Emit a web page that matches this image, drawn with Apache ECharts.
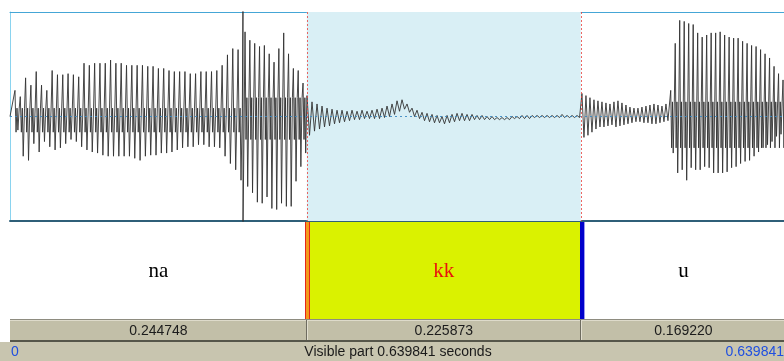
<!DOCTYPE html>
<html>
<head>
<meta charset="utf-8">
<script src="https://cdn.jsdelivr.net/npm/echarts@6/dist/echarts.min.js"></script>
<style>
html, body { margin: 0; padding: 0; background: #fff; }
#c { width: 784px; height: 361px; }
</style>
</head>
<body>
<div id="c"></div>
<script>
// Interval tier: labels and durations (s)
const tierLabels = ['na', 'kk', 'u'];
const tierDurations = [0.244748, 0.225873, 0.169220];
const selectedTier = 1;

// Sound: pulse trains, amplitudes relative to full scale
const naOnsetA = 0.0041, naPeriodA = 0.00438;
const naTopsA = [0.25,0.19,0.37,0.30,0.43,0.30,0.25,0.44,0.40,0.40,0.41,0.40,0.38,0.51,0.49,0.51,0.51,0.51,0.54,0.51,0.51,0.49,0.49,0.49,0.49,0.48,0.48,0.46,0.46,0.44,0.43,0.43,0.43,0.41,0.41,0.43,0.43,0.43,0.44,0.49,0.59,0.65,0.64];
const naBotsA = [-0.13,-0.38,-0.42,-0.26,-0.34,-0.24,-0.29,-0.32,-0.30,-0.26,-0.22,-0.24,-0.29,-0.32,-0.34,-0.35,-0.37,-0.38,-0.38,-0.38,-0.38,-0.38,-0.40,-0.42,-0.38,-0.37,-0.37,-0.35,-0.35,-0.34,-0.32,-0.30,-0.29,-0.29,-0.27,-0.27,-0.29,-0.29,-0.30,-0.38,-0.45,-0.51,-0.61];
const naInnerA = [0.08, -0.15];

const clickTime = 0.1921;

const naOnsetB = 0.1938, naPeriodB = 0.003985;
const naTopsB = [0.81,0.73,0.70,0.67,0.68,0.60,0.52,0.65,0.80,0.60,0.46,0.44,0.32];
const naBotsB = [-0.67,-0.73,-0.82,-0.83,-0.77,-0.88,-0.89,-0.83,-0.86,-0.86,-0.62,-0.48,-0.35];
const naInnerB = [0.18, -0.22];

const kkOnset = 0.2449, kkPeriod = 0.004123;
const kkTops = [0.20,0.14,0.12,0.10,0.08,0.07,0.06,0.06,0.05,0.06,0.05,0.06,0.05,0.06,0.07,0.08,0.10,0.12,0.15,0.16,0.12,0.08,0.06,0.04,0.03,0.02,0.01,0.00,0.01,0.02,0.03,0.03,0.02,0.02,0.01,0.01,0.00,0.00,-0.01,-0.01,-0.01,0.00,0.00,0.01,0.01,0.01,0.01,0.01,0.01,0.01,0.01,0.02,0.01,0.01,0.01];
const kkBots = [-0.18,-0.14,-0.12,-0.10,-0.09,-0.07,-0.06,-0.05,-0.04,-0.03,-0.03,-0.02,-0.02,-0.02,-0.02,-0.01,0.00,0.02,0.05,0.07,0.04,0.00,-0.02,-0.04,-0.05,-0.06,-0.06,-0.07,-0.06,-0.05,-0.04,-0.04,-0.04,-0.03,-0.03,-0.03,-0.03,-0.03,-0.03,-0.03,-0.03,-0.02,-0.02,-0.02,-0.02,-0.01,-0.01,-0.01,-0.01,-0.01,-0.01,-0.01,-0.01,-0.01,-0.01];

const uNoiseOnset = 0.4716, uNoisePeriod = 0.003298;
const uNoiseTops = [0.22,0.20,0.18,0.16,0.15,0.14,0.13,0.12,0.14,0.15,0.13,0.11,0.09,0.08,0.08,0.09,0.10,0.11,0.12,0.11,0.10,0.12];
const uNoiseBots = [-0.20,-0.18,-0.15,-0.12,-0.10,-0.10,-0.09,-0.08,-0.10,-0.09,-0.08,-0.07,-0.06,-0.05,-0.05,-0.06,-0.06,-0.07,-0.07,-0.06,-0.05,-0.04];

const uOnset = 0.5448, uPeriod = 0.003704;
const uTops = [0.25,0.70,0.92,0.91,0.89,0.88,0.80,0.76,0.78,0.80,0.80,0.81,0.78,0.76,0.75,0.75,0.72,0.70,0.68,0.67,0.64,0.60,0.56,0.48,0.41,0.35];
const uBots = [-0.35,-0.54,-0.51,-0.61,-0.49,-0.51,-0.51,-0.48,-0.49,-0.54,-0.54,-0.54,-0.53,-0.49,-0.48,-0.45,-0.43,-0.42,-0.38,-0.34,-0.30,-0.27,-0.24,-0.19,-0.17,-0.15];
const uInner = [0.14, -0.30];

// Interval boundaries from the durations
const bounds = [0];
tierDurations.forEach(d => bounds.push(bounds[bounds.length - 1] + d));
const totalDur = bounds[bounds.length - 1];
const selStart = bounds[selectedTier], selEnd = bounds[selectedTier + 1];

// One glottal cycle: main peak, inner wiggle, trough, inner wiggle
function pulseTrain(onset, period, tops, bots, inner) {
  const pts = [];
  for (let i = 0; i < tops.length; i++) {
    const t = onset + i * period;
    if (inner) {
      pts.push([t, tops[i]], [t + 0.2 * period, inner[1]], [t + 0.38 * period, inner[0]],
               [t + 0.55 * period, bots[i]], [t + 0.8 * period, inner[0]]);
    } else {
      pts.push([t, tops[i]], [t + 0.5 * period, bots[i]]);
    }
  }
  return pts;
}

const wave = [[0, 0]]
  .concat(pulseTrain(naOnsetA, naPeriodA, naTopsA, naBotsA, naInnerA))
  .concat([[clickTime, 1.1], [clickTime, -1.1]])
  .concat(pulseTrain(naOnsetB, naPeriodB, naTopsB, naBotsB, naInnerB))
  .concat(pulseTrain(kkOnset, kkPeriod, kkTops, kkBots, null))
  .concat(pulseTrain(uNoiseOnset, uNoisePeriod, uNoiseTops, uNoiseBots, null))
  .concat(pulseTrain(uOnset, uPeriod, uTops, uBots, uInner));

const tierRows = tierLabels.map((l, i) => [bounds[i], bounds[i + 1], 0.5, i]);
const boundaryRows = bounds.slice(1, -1).map((b, i) => [b, 0.5, i]);
const durationRows = tierDurations.map((d, i) => [bounds[i], bounds[i + 1], 0.5, d]);

const chart = echarts.init(document.getElementById('c'), null, { renderer: 'canvas', width: 784, height: 361 });

const hiddenX = (grid) => ({
  type: 'value', gridIndex: grid, min: 0, max: totalDur,
  axisLine: { show: false }, axisTick: { show: false }, axisLabel: { show: false }, splitLine: { show: false }
});
const hiddenY = (grid, mn, mx) => ({
  type: 'value', gridIndex: grid, min: mn, max: mx,
  axisLine: { show: false }, axisTick: { show: false }, axisLabel: { show: false }, splitLine: { show: false }
});

const SANS = '"Liberation Sans", Arial, sans-serif';

chart.setOption({
  animation: false,
  grid: [
    { left: 10, right: -2, top: 12, height: 209, outerBoundsMode: 'none', containLabel: false },
    { left: 10, right: -2, top: 222, height: 97, outerBoundsMode: 'none', containLabel: false },
    { left: 10, right: -2, top: 320, height: 21, outerBoundsMode: 'none', containLabel: false }
  ],
  xAxis: [
    Object.assign(hiddenX(0), { position: 'bottom', axisLine: { show: true, onZero: false, lineStyle: { color: '#2f5f78', width: 2 } } }),
    Object.assign(hiddenX(0), { position: 'top', axisLine: { show: true, onZero: false, lineStyle: { color: '#45a6d6', width: 1 } } }),
    hiddenX(1),
    hiddenX(2)
  ],
  yAxis: [
    Object.assign(hiddenY(0, -1, 1), { axisLine: { show: true, onZero: false, lineStyle: { color: '#8ad3ef', width: 1 } } }),
    hiddenY(1, 0, 1),
    hiddenY(2, 0, 1)
  ],
  graphic: [
    { type: 'rect', shape: { x: 0, y: 342, width: 784, height: 19 }, style: { fill: '#c8c5af' }, z: 0 },
    { type: 'rect', shape: { x: 10, y: 319, width: 776, height: 1 }, style: { fill: '#8e8c80' }, z: 10 },
    { type: 'rect', shape: { x: 10, y: 340, width: 776, height: 2 }, style: { fill: '#56564a' }, z: 10 },
    { type: 'text', style: { text: '0', x: 11, y: 352, fill: '#1f4fe0', font: '14px ' + SANS, align: 'left', verticalAlign: 'middle' }, z: 10 },
    { type: 'text', style: { text: 'Visible part ' + totalDur.toFixed(6) + ' seconds', x: 398, y: 352, fill: '#1a1a1a', font: '14px ' + SANS, align: 'center', verticalAlign: 'middle' }, z: 10 },
    { type: 'text', style: { text: totalDur.toFixed(6), x: 784, y: 352, fill: '#1f4fe0', font: '14px ' + SANS, align: 'right', verticalAlign: 'middle' }, z: 10 }
  ],
  series: [
    {
      // selected interval shading in the sound panel
      type: 'custom', xAxisIndex: 0, yAxisIndex: 0, z: 1,
      data: [[selStart, selEnd, 0]],
      encode: { x: [0, 1], y: 2 },
      renderItem: (params, api) => {
        const a = api.coord([api.value(0), 1]);
        const b = api.coord([api.value(1), -1]);
        return { type: 'rect', shape: { x: a[0], y: a[1], width: b[0] - a[0], height: b[1] - a[1] }, style: { fill: '#d9eff5' } };
      }
    },
    {
      type: 'line', xAxisIndex: 0, yAxisIndex: 0, z: 3,
      data: wave, showSymbol: false, symbol: 'none',
      lineStyle: { color: '#333333', width: 1, opacity: 0.9 },
      clip: true, silent: true,
      markLine: {
        silent: true, symbol: 'none', label: { show: false },
        lineStyle: { color: '#3a88c2', width: 1, type: [2, 3], opacity: 0.9 },
        data: [{ yAxis: 0 }]
      }
    },
    {
      // selection edges
      type: 'custom', xAxisIndex: 0, yAxisIndex: 0, z: 5,
      data: [[selStart, 0], [selEnd, 0]],
      encode: { x: 0, y: 1 },
      renderItem: (params, api) => {
        const a = api.coord([api.value(0), 1]);
        const b = api.coord([api.value(0), -1]);
        const x = Math.round(a[0]) + 0.5;
        return { type: 'line', shape: { x1: x, y1: a[1], x2: x, y2: b[1] }, style: { stroke: '#e8413c', lineWidth: 1, lineDash: [2, 2], opacity: 0.8 } };
      }
    },
    {
      // interval tier
      type: 'custom', xAxisIndex: 2, yAxisIndex: 1, z: 2,
      data: tierRows,
      encode: { x: [0, 1], y: 2 },
      renderItem: (params, api) => {
        const s = api.coord([api.value(0), 1]);
        const e = api.coord([api.value(1), 0]);
        const idx = api.value(3);
        const children = [];
        if (idx === selectedTier) {
          children.push({ type: 'rect', shape: { x: s[0], y: s[1], width: e[0] - s[0], height: e[1] - s[1] }, style: { fill: '#daf200' } });
        }
        children.push({
          type: 'text',
          style: {
            text: tierLabels[idx], x: (s[0] + e[0]) / 2, y: (s[1] + e[1]) / 2 + 1,
            fill: idx === selectedTier ? '#e8140c' : '#000000',
            font: '21px "Liberation Serif", "Times New Roman", serif',
            align: 'center', verticalAlign: 'middle'
          }
        });
        return { type: 'group', children };
      }
    },
    {
      // interval boundaries
      type: 'custom', xAxisIndex: 2, yAxisIndex: 1, z: 3,
      data: boundaryRows,
      encode: { x: 0, y: 1 },
      renderItem: (params, api) => {
        const top = api.coord([api.value(0), 1]);
        const bot = api.coord([api.value(0), 0]);
        const c = Math.round(top[0]);
        const h = bot[1] - top[1];
        if (api.value(2) === 0) {
          return { type: 'group', children: [
            { type: 'rect', shape: { x: c - 2, y: top[1], width: 5, height: h }, style: { fill: '#e5261a' } },
            { type: 'rect', shape: { x: c - 1, y: top[1], width: 3, height: h }, style: { fill: '#f39a1c' } }
          ] };
        }
        return { type: 'group', children: [
          { type: 'rect', shape: { x: c - 1, y: top[1], width: 4, height: h }, style: { fill: '#0000cc' } },
          { type: 'rect', shape: { x: c + 3, y: top[1], width: 1, height: h }, style: { fill: '#9a9af0' } }
        ] };
      }
    },
    {
      // duration bar
      type: 'custom', xAxisIndex: 3, yAxisIndex: 2, z: 2,
      data: durationRows,
      encode: { x: [0, 1], y: 2 },
      renderItem: (params, api) => {
        const s = api.coord([api.value(0), 1]);
        const e = api.coord([api.value(1), 0]);
        const children = [
          { type: 'rect', shape: { x: s[0], y: s[1], width: e[0] - s[0], height: e[1] - s[1] }, style: { fill: '#c2bfa8' } },
          { type: 'rect', shape: { x: s[0], y: s[1], width: e[0] - s[0], height: 1 }, style: { fill: '#dedbcb' } }
        ];
        if (api.value(0) > 0) {
          const x = Math.round(s[0]);
          children.push({ type: 'rect', shape: { x: x - 1, y: s[1], width: 1, height: e[1] - s[1] }, style: { fill: '#6e6c60' } });
          children.push({ type: 'rect', shape: { x: x, y: s[1], width: 1, height: e[1] - s[1] }, style: { fill: '#e2dfd0' } });
        }
        children.push({
          type: 'text',
          style: {
            text: api.value(3).toFixed(6), x: (s[0] + e[0]) / 2, y: (s[1] + e[1]) / 2 + 0.5,
            fill: '#1c1c1c', font: '14px ' + SANS, align: 'center', verticalAlign: 'middle'
          }
        });
        return { type: 'group', children };
      }
    }
  ]
});
</script>
</body>
</html>
